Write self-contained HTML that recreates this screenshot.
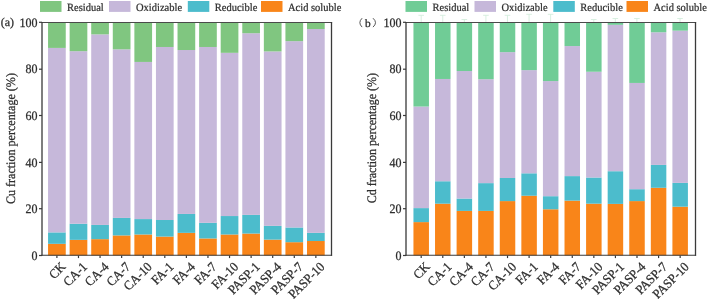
<!DOCTYPE html>
<html><head><meta charset="utf-8"><style>
html,body{margin:0;padding:0;background:#fff;}
svg{display:block;will-change:transform;}
text{font-family:"Liberation Serif",serif;fill:#2e2e2e;stroke:#2e2e2e;stroke-width:0.15px;text-rendering:geometricPrecision;}
.tk{font-size:12px;stroke-width:0.25px;}
.xl{font-size:12.4px;stroke-width:0.25px;}
.tt{font-size:12px;stroke-width:0.25px;}
.lg{font-size:10.5px;stroke-width:0.22px;}
</style></head><body>
<svg width="708" height="300" viewBox="0 0 708 300">
<rect x="40" y="1" width="21.5" height="10.9" fill="#80c680"/>
<text transform="translate(67,10.85) scale(1,1.06)" class="lg">Residual</text>
<rect x="109" y="1" width="21.5" height="10.9" fill="#c6b8da"/>
<text transform="translate(136,10.85) scale(1,1.06)" class="lg">Oxidizable</text>
<rect x="187.8" y="1" width="21.5" height="10.9" fill="#4cbccc"/>
<text transform="translate(214.8,10.85) scale(1,1.06)" class="lg">Reducible</text>
<rect x="261" y="1" width="21.5" height="10.9" fill="#f98519"/>
<text transform="translate(288,10.85) scale(1,1.06)" class="lg">Acid soluble</text>
<path d="M418.40 15.3 H424.00 M421.20 15.3 V22" fill="none" stroke="#d4eddc" stroke-width="0.9"/>
<path d="M439.97 15.3 H445.57 M442.77 15.3 V22" fill="none" stroke="#d4eddc" stroke-width="0.9"/>
<path d="M461.54 19.5 H467.14 M464.34 19.5 V22" fill="none" stroke="#d4eddc" stroke-width="0.9"/>
<path d="M483.11 15.3 H488.71 M485.91 15.3 V22" fill="none" stroke="#d4eddc" stroke-width="0.9"/>
<path d="M504.68 15.3 H510.28 M507.48 15.3 V22" fill="none" stroke="#d4eddc" stroke-width="0.9"/>
<path d="M526.25 14.3 H531.85 M529.05 14.3 V22" fill="none" stroke="#d4eddc" stroke-width="0.9"/>
<path d="M547.82 14.3 H553.42 M550.62 14.3 V22" fill="none" stroke="#d4eddc" stroke-width="0.9"/>
<path d="M590.96 19.5 H596.56 M593.76 19.5 V22" fill="none" stroke="#d4eddc" stroke-width="0.9"/>
<path d="M612.53 18.5 H618.13 M615.33 18.5 V22" fill="none" stroke="#d4eddc" stroke-width="0.9"/>
<path d="M634.10 18.5 H639.70 M636.90 18.5 V22" fill="none" stroke="#d4eddc" stroke-width="0.9"/>
<path d="M677.24 18.5 H682.84 M680.04 18.5 V22" fill="none" stroke="#d4eddc" stroke-width="0.9"/>
<rect x="405.5" y="1" width="21.5" height="10.9" fill="#70cc96"/>
<text transform="translate(432.5,10.85) scale(1,1.06)" class="lg">Residual</text>
<rect x="474.5" y="1" width="21.5" height="10.9" fill="#c6b8da"/>
<text transform="translate(501.5,10.85) scale(1,1.06)" class="lg">Oxidizable</text>
<rect x="553.3" y="1" width="21.5" height="10.9" fill="#4cbccc"/>
<text transform="translate(580.3,10.85) scale(1,1.06)" class="lg">Reducible</text>
<rect x="626.5" y="1" width="21.5" height="10.9" fill="#f98519"/>
<text transform="translate(653.5,10.85) scale(1,1.06)" class="lg">Acid soluble</text>
<rect x="48.05" y="243.82" width="17.70" height="11.68" fill="#f98519"/>
<rect x="48.05" y="232.38" width="17.70" height="11.44" fill="#4cbccc"/>
<rect x="48.05" y="47.92" width="17.70" height="184.47" fill="#c6b8da"/>
<rect x="48.05" y="22.00" width="17.70" height="25.92" fill="#80c680"/>
<rect x="69.63" y="239.86" width="17.70" height="15.64" fill="#f98519"/>
<rect x="69.63" y="223.74" width="17.70" height="16.11" fill="#4cbccc"/>
<rect x="69.63" y="51.19" width="17.70" height="172.56" fill="#c6b8da"/>
<rect x="69.63" y="22.00" width="17.70" height="29.19" fill="#80c680"/>
<rect x="91.21" y="239.16" width="17.70" height="16.34" fill="#f98519"/>
<rect x="91.21" y="224.91" width="17.70" height="14.24" fill="#4cbccc"/>
<rect x="91.21" y="34.38" width="17.70" height="190.54" fill="#c6b8da"/>
<rect x="91.21" y="22.00" width="17.70" height="12.38" fill="#80c680"/>
<rect x="112.79" y="235.42" width="17.70" height="20.08" fill="#f98519"/>
<rect x="112.79" y="217.91" width="17.70" height="17.51" fill="#4cbccc"/>
<rect x="112.79" y="49.32" width="17.70" height="168.59" fill="#c6b8da"/>
<rect x="112.79" y="22.00" width="17.70" height="27.32" fill="#80c680"/>
<rect x="134.37" y="234.49" width="17.70" height="21.02" fill="#f98519"/>
<rect x="134.37" y="219.07" width="17.70" height="15.41" fill="#4cbccc"/>
<rect x="134.37" y="61.93" width="17.70" height="157.15" fill="#c6b8da"/>
<rect x="134.37" y="22.00" width="17.70" height="39.93" fill="#80c680"/>
<rect x="155.95" y="236.59" width="17.70" height="18.91" fill="#f98519"/>
<rect x="155.95" y="220.01" width="17.70" height="16.58" fill="#4cbccc"/>
<rect x="155.95" y="46.98" width="17.70" height="173.02" fill="#c6b8da"/>
<rect x="155.95" y="22.00" width="17.70" height="24.98" fill="#80c680"/>
<rect x="177.53" y="232.85" width="17.70" height="22.65" fill="#f98519"/>
<rect x="177.53" y="213.94" width="17.70" height="18.91" fill="#4cbccc"/>
<rect x="177.53" y="50.02" width="17.70" height="163.92" fill="#c6b8da"/>
<rect x="177.53" y="22.00" width="17.70" height="28.02" fill="#80c680"/>
<rect x="199.11" y="238.45" width="17.70" height="17.05" fill="#f98519"/>
<rect x="199.11" y="222.81" width="17.70" height="15.64" fill="#4cbccc"/>
<rect x="199.11" y="46.98" width="17.70" height="175.83" fill="#c6b8da"/>
<rect x="199.11" y="22.00" width="17.70" height="24.98" fill="#80c680"/>
<rect x="220.69" y="234.49" width="17.70" height="21.02" fill="#f98519"/>
<rect x="220.69" y="216.04" width="17.70" height="18.45" fill="#4cbccc"/>
<rect x="220.69" y="52.82" width="17.70" height="163.22" fill="#c6b8da"/>
<rect x="220.69" y="22.00" width="17.70" height="30.82" fill="#80c680"/>
<rect x="242.27" y="233.55" width="17.70" height="21.95" fill="#f98519"/>
<rect x="242.27" y="214.87" width="17.70" height="18.68" fill="#4cbccc"/>
<rect x="242.27" y="33.21" width="17.70" height="181.66" fill="#c6b8da"/>
<rect x="242.27" y="22.00" width="17.70" height="11.21" fill="#80c680"/>
<rect x="263.85" y="239.62" width="17.70" height="15.88" fill="#f98519"/>
<rect x="263.85" y="225.85" width="17.70" height="13.78" fill="#4cbccc"/>
<rect x="263.85" y="51.42" width="17.70" height="174.42" fill="#c6b8da"/>
<rect x="263.85" y="22.00" width="17.70" height="29.42" fill="#80c680"/>
<rect x="285.43" y="242.19" width="17.70" height="13.31" fill="#f98519"/>
<rect x="285.43" y="227.48" width="17.70" height="14.71" fill="#4cbccc"/>
<rect x="285.43" y="41.15" width="17.70" height="186.33" fill="#c6b8da"/>
<rect x="285.43" y="22.00" width="17.70" height="19.15" fill="#80c680"/>
<rect x="307.01" y="241.02" width="17.70" height="14.48" fill="#f98519"/>
<rect x="307.01" y="232.85" width="17.70" height="8.17" fill="#4cbccc"/>
<rect x="307.01" y="29.00" width="17.70" height="203.85" fill="#c6b8da"/>
<rect x="307.01" y="22.00" width="17.70" height="7.00" fill="#80c680"/>
<path d="M41.4 22.45 H332.1" fill="none" stroke="#4a4a4a" stroke-width="1.1"/>
<path d="M42 22 V255.8 M331.5 22 V255.8" fill="none" stroke="#3a3a3a" stroke-width="1.3"/>
<path d="M41.4 255.2 H332.1" fill="none" stroke="#3a3a3a" stroke-width="1.15"/>
<line x1="39" y1="255.50" x2="42" y2="255.50" stroke="#3a3a3a" stroke-width="1.2"/>
<text transform="translate(37.5,259.70) scale(1,1.07)" text-anchor="end" class="tk">0</text>
<line x1="39" y1="208.70" x2="42" y2="208.70" stroke="#3a3a3a" stroke-width="1.2"/>
<text transform="translate(37.5,212.90) scale(1,1.07)" text-anchor="end" class="tk">20</text>
<line x1="39" y1="162.40" x2="42" y2="162.40" stroke="#3a3a3a" stroke-width="1.2"/>
<text transform="translate(37.5,166.60) scale(1,1.07)" text-anchor="end" class="tk">40</text>
<line x1="39" y1="115.50" x2="42" y2="115.50" stroke="#3a3a3a" stroke-width="1.2"/>
<text transform="translate(37.5,119.70) scale(1,1.07)" text-anchor="end" class="tk">60</text>
<line x1="39" y1="69.20" x2="42" y2="69.20" stroke="#3a3a3a" stroke-width="1.2"/>
<text transform="translate(37.5,73.40) scale(1,1.07)" text-anchor="end" class="tk">80</text>
<line x1="39" y1="22.30" x2="42" y2="22.30" stroke="#3a3a3a" stroke-width="1.2"/>
<text transform="translate(37.5,26.50) scale(1,1.07)" text-anchor="end" class="tk">100</text>
<line x1="56.90" y1="255.5" x2="56.90" y2="258.1" stroke="#3a3a3a" stroke-width="1.2"/>
<text transform="translate(66.40,267.5) rotate(-45) scale(1,1.06)" text-anchor="end" class="xl">CK</text>
<line x1="78.48" y1="255.5" x2="78.48" y2="258.1" stroke="#3a3a3a" stroke-width="1.2"/>
<text transform="translate(87.98,267.5) rotate(-45) scale(1,1.06)" text-anchor="end" class="xl">CA-1</text>
<line x1="100.06" y1="255.5" x2="100.06" y2="258.1" stroke="#3a3a3a" stroke-width="1.2"/>
<text transform="translate(109.56,267.5) rotate(-45) scale(1,1.06)" text-anchor="end" class="xl">CA-4</text>
<line x1="121.64" y1="255.5" x2="121.64" y2="258.1" stroke="#3a3a3a" stroke-width="1.2"/>
<text transform="translate(131.14,267.5) rotate(-45) scale(1,1.06)" text-anchor="end" class="xl">CA-7</text>
<line x1="143.22" y1="255.5" x2="143.22" y2="258.1" stroke="#3a3a3a" stroke-width="1.2"/>
<text transform="translate(152.72,267.5) rotate(-45) scale(1,1.06)" text-anchor="end" class="xl">CA-10</text>
<line x1="164.80" y1="255.5" x2="164.80" y2="258.1" stroke="#3a3a3a" stroke-width="1.2"/>
<text transform="translate(174.30,267.5) rotate(-45) scale(1,1.06)" text-anchor="end" class="xl">FA-1</text>
<line x1="186.38" y1="255.5" x2="186.38" y2="258.1" stroke="#3a3a3a" stroke-width="1.2"/>
<text transform="translate(195.88,267.5) rotate(-45) scale(1,1.06)" text-anchor="end" class="xl">FA-4</text>
<line x1="207.96" y1="255.5" x2="207.96" y2="258.1" stroke="#3a3a3a" stroke-width="1.2"/>
<text transform="translate(217.46,267.5) rotate(-45) scale(1,1.06)" text-anchor="end" class="xl">FA-7</text>
<line x1="229.54" y1="255.5" x2="229.54" y2="258.1" stroke="#3a3a3a" stroke-width="1.2"/>
<text transform="translate(239.04,267.5) rotate(-45) scale(1,1.06)" text-anchor="end" class="xl">FA-10</text>
<line x1="251.12" y1="255.5" x2="251.12" y2="258.1" stroke="#3a3a3a" stroke-width="1.2"/>
<text transform="translate(260.62,267.5) rotate(-45) scale(1,1.06)" text-anchor="end" class="xl">PASP-1</text>
<line x1="272.70" y1="255.5" x2="272.70" y2="258.1" stroke="#3a3a3a" stroke-width="1.2"/>
<text transform="translate(282.20,267.5) rotate(-45) scale(1,1.06)" text-anchor="end" class="xl">PASP-4</text>
<line x1="294.28" y1="255.5" x2="294.28" y2="258.1" stroke="#3a3a3a" stroke-width="1.2"/>
<text transform="translate(303.78,267.5) rotate(-45) scale(1,1.06)" text-anchor="end" class="xl">PASP-7</text>
<line x1="315.86" y1="255.5" x2="315.86" y2="258.1" stroke="#3a3a3a" stroke-width="1.2"/>
<text transform="translate(325.36,267.5) rotate(-45) scale(1,1.06)" text-anchor="end" class="xl">PASP-10</text>
<text transform="translate(15.4,138.6) rotate(-90) scale(1.006,1.08)" text-anchor="middle" class="tt">Cu fraction percentage (%)</text>
<rect x="413.45" y="222.11" width="15.50" height="33.39" fill="#f98519"/>
<rect x="413.45" y="208.10" width="15.50" height="14.01" fill="#4cbccc"/>
<rect x="413.45" y="106.53" width="15.50" height="101.57" fill="#c6b8da"/>
<rect x="413.45" y="22.00" width="15.50" height="84.53" fill="#70cc96"/>
<rect x="435.03" y="203.66" width="15.50" height="51.84" fill="#f98519"/>
<rect x="435.03" y="181.25" width="15.50" height="22.42" fill="#4cbccc"/>
<rect x="435.03" y="78.97" width="15.50" height="102.27" fill="#c6b8da"/>
<rect x="435.03" y="22.00" width="15.50" height="56.97" fill="#70cc96"/>
<rect x="456.61" y="210.90" width="15.50" height="44.60" fill="#f98519"/>
<rect x="456.61" y="198.53" width="15.50" height="12.38" fill="#4cbccc"/>
<rect x="456.61" y="71.03" width="15.50" height="127.49" fill="#c6b8da"/>
<rect x="456.61" y="22.00" width="15.50" height="49.03" fill="#70cc96"/>
<rect x="478.19" y="210.90" width="15.50" height="44.60" fill="#f98519"/>
<rect x="478.19" y="183.12" width="15.50" height="27.79" fill="#4cbccc"/>
<rect x="478.19" y="79.21" width="15.50" height="103.91" fill="#c6b8da"/>
<rect x="478.19" y="22.00" width="15.50" height="57.21" fill="#70cc96"/>
<rect x="499.77" y="201.09" width="15.50" height="54.41" fill="#f98519"/>
<rect x="499.77" y="177.98" width="15.50" height="23.12" fill="#4cbccc"/>
<rect x="499.77" y="52.12" width="15.50" height="125.86" fill="#c6b8da"/>
<rect x="499.77" y="22.00" width="15.50" height="30.12" fill="#70cc96"/>
<rect x="521.35" y="195.72" width="15.50" height="59.78" fill="#f98519"/>
<rect x="521.35" y="173.31" width="15.50" height="22.42" fill="#4cbccc"/>
<rect x="521.35" y="70.10" width="15.50" height="103.21" fill="#c6b8da"/>
<rect x="521.35" y="22.00" width="15.50" height="48.10" fill="#70cc96"/>
<rect x="542.93" y="209.27" width="15.50" height="46.23" fill="#f98519"/>
<rect x="542.93" y="196.19" width="15.50" height="13.08" fill="#4cbccc"/>
<rect x="542.93" y="81.08" width="15.50" height="115.12" fill="#c6b8da"/>
<rect x="542.93" y="22.00" width="15.50" height="59.08" fill="#70cc96"/>
<rect x="564.51" y="200.63" width="15.50" height="54.87" fill="#f98519"/>
<rect x="564.51" y="176.11" width="15.50" height="24.52" fill="#4cbccc"/>
<rect x="564.51" y="46.05" width="15.50" height="130.06" fill="#c6b8da"/>
<rect x="564.51" y="22.00" width="15.50" height="24.05" fill="#70cc96"/>
<rect x="586.09" y="203.66" width="15.50" height="51.84" fill="#f98519"/>
<rect x="586.09" y="177.51" width="15.50" height="26.15" fill="#4cbccc"/>
<rect x="586.09" y="71.74" width="15.50" height="105.78" fill="#c6b8da"/>
<rect x="586.09" y="22.00" width="15.50" height="49.74" fill="#70cc96"/>
<rect x="607.67" y="203.90" width="15.50" height="51.60" fill="#f98519"/>
<rect x="607.67" y="171.21" width="15.50" height="32.69" fill="#4cbccc"/>
<rect x="607.67" y="24.80" width="15.50" height="146.40" fill="#c6b8da"/>
<rect x="607.67" y="22.00" width="15.50" height="2.80" fill="#70cc96"/>
<rect x="629.25" y="201.09" width="15.50" height="54.41" fill="#f98519"/>
<rect x="629.25" y="189.19" width="15.50" height="11.91" fill="#4cbccc"/>
<rect x="629.25" y="82.94" width="15.50" height="106.24" fill="#c6b8da"/>
<rect x="629.25" y="22.00" width="15.50" height="60.94" fill="#70cc96"/>
<rect x="650.83" y="187.78" width="15.50" height="67.72" fill="#f98519"/>
<rect x="650.83" y="164.90" width="15.50" height="22.88" fill="#4cbccc"/>
<rect x="650.83" y="32.27" width="15.50" height="132.63" fill="#c6b8da"/>
<rect x="650.83" y="22.00" width="15.50" height="10.27" fill="#70cc96"/>
<rect x="672.41" y="206.70" width="15.50" height="48.80" fill="#f98519"/>
<rect x="672.41" y="182.88" width="15.50" height="23.82" fill="#4cbccc"/>
<rect x="672.41" y="30.64" width="15.50" height="152.24" fill="#c6b8da"/>
<rect x="672.41" y="22.00" width="15.50" height="8.64" fill="#70cc96"/>
<path d="M405.4 22.45 H696.1" fill="none" stroke="#4a4a4a" stroke-width="1.1"/>
<path d="M406 22 V255.8 M695.5 22 V255.8" fill="none" stroke="#3a3a3a" stroke-width="1.3"/>
<path d="M405.4 255.2 H696.1" fill="none" stroke="#3a3a3a" stroke-width="1.15"/>
<line x1="403" y1="255.50" x2="406" y2="255.50" stroke="#3a3a3a" stroke-width="1.2"/>
<text transform="translate(401.5,259.70) scale(1,1.07)" text-anchor="end" class="tk">0</text>
<line x1="403" y1="208.70" x2="406" y2="208.70" stroke="#3a3a3a" stroke-width="1.2"/>
<text transform="translate(401.5,212.90) scale(1,1.07)" text-anchor="end" class="tk">20</text>
<line x1="403" y1="162.40" x2="406" y2="162.40" stroke="#3a3a3a" stroke-width="1.2"/>
<text transform="translate(401.5,166.60) scale(1,1.07)" text-anchor="end" class="tk">40</text>
<line x1="403" y1="115.50" x2="406" y2="115.50" stroke="#3a3a3a" stroke-width="1.2"/>
<text transform="translate(401.5,119.70) scale(1,1.07)" text-anchor="end" class="tk">60</text>
<line x1="403" y1="69.20" x2="406" y2="69.20" stroke="#3a3a3a" stroke-width="1.2"/>
<text transform="translate(401.5,73.40) scale(1,1.07)" text-anchor="end" class="tk">80</text>
<line x1="403" y1="22.30" x2="406" y2="22.30" stroke="#3a3a3a" stroke-width="1.2"/>
<text transform="translate(401.5,26.50) scale(1,1.07)" text-anchor="end" class="tk">100</text>
<line x1="421.20" y1="255.5" x2="421.20" y2="258.1" stroke="#3a3a3a" stroke-width="1.2"/>
<text transform="translate(430.70,267.5) rotate(-45) scale(1,1.06)" text-anchor="end" class="xl">CK</text>
<line x1="442.78" y1="255.5" x2="442.78" y2="258.1" stroke="#3a3a3a" stroke-width="1.2"/>
<text transform="translate(452.28,267.5) rotate(-45) scale(1,1.06)" text-anchor="end" class="xl">CA-1</text>
<line x1="464.36" y1="255.5" x2="464.36" y2="258.1" stroke="#3a3a3a" stroke-width="1.2"/>
<text transform="translate(473.86,267.5) rotate(-45) scale(1,1.06)" text-anchor="end" class="xl">CA-4</text>
<line x1="485.94" y1="255.5" x2="485.94" y2="258.1" stroke="#3a3a3a" stroke-width="1.2"/>
<text transform="translate(495.44,267.5) rotate(-45) scale(1,1.06)" text-anchor="end" class="xl">CA-7</text>
<line x1="507.52" y1="255.5" x2="507.52" y2="258.1" stroke="#3a3a3a" stroke-width="1.2"/>
<text transform="translate(517.02,267.5) rotate(-45) scale(1,1.06)" text-anchor="end" class="xl">CA-10</text>
<line x1="529.10" y1="255.5" x2="529.10" y2="258.1" stroke="#3a3a3a" stroke-width="1.2"/>
<text transform="translate(538.60,267.5) rotate(-45) scale(1,1.06)" text-anchor="end" class="xl">FA-1</text>
<line x1="550.68" y1="255.5" x2="550.68" y2="258.1" stroke="#3a3a3a" stroke-width="1.2"/>
<text transform="translate(560.18,267.5) rotate(-45) scale(1,1.06)" text-anchor="end" class="xl">FA-4</text>
<line x1="572.26" y1="255.5" x2="572.26" y2="258.1" stroke="#3a3a3a" stroke-width="1.2"/>
<text transform="translate(581.76,267.5) rotate(-45) scale(1,1.06)" text-anchor="end" class="xl">FA-7</text>
<line x1="593.84" y1="255.5" x2="593.84" y2="258.1" stroke="#3a3a3a" stroke-width="1.2"/>
<text transform="translate(603.34,267.5) rotate(-45) scale(1,1.06)" text-anchor="end" class="xl">FA-10</text>
<line x1="615.42" y1="255.5" x2="615.42" y2="258.1" stroke="#3a3a3a" stroke-width="1.2"/>
<text transform="translate(624.92,267.5) rotate(-45) scale(1,1.06)" text-anchor="end" class="xl">PASP-1</text>
<line x1="637.00" y1="255.5" x2="637.00" y2="258.1" stroke="#3a3a3a" stroke-width="1.2"/>
<text transform="translate(646.50,267.5) rotate(-45) scale(1,1.06)" text-anchor="end" class="xl">PASP-4</text>
<line x1="658.58" y1="255.5" x2="658.58" y2="258.1" stroke="#3a3a3a" stroke-width="1.2"/>
<text transform="translate(668.08,267.5) rotate(-45) scale(1,1.06)" text-anchor="end" class="xl">PASP-7</text>
<line x1="680.16" y1="255.5" x2="680.16" y2="258.1" stroke="#3a3a3a" stroke-width="1.2"/>
<text transform="translate(689.66,267.5) rotate(-45) scale(1,1.06)" text-anchor="end" class="xl">PASP-10</text>
<text transform="translate(375.6,138.1) rotate(-90) scale(1.0,1.08)" text-anchor="middle" class="tt">Cd fraction percentage (%)</text>
<text x="0.8" y="26" class="tk">(a)</text>
<text x="365.1" y="26.8" style="font-size:11.3px;stroke-width:0.3px">b</text>
<path d="M362.1 18.2 Q357.6 22.65 362.1 27.1" fill="none" stroke="#444" stroke-width="0.9"/>
<path d="M373 18.2 Q378 22.65 373 27.1" fill="none" stroke="#444" stroke-width="0.9"/>
</svg></body></html>
